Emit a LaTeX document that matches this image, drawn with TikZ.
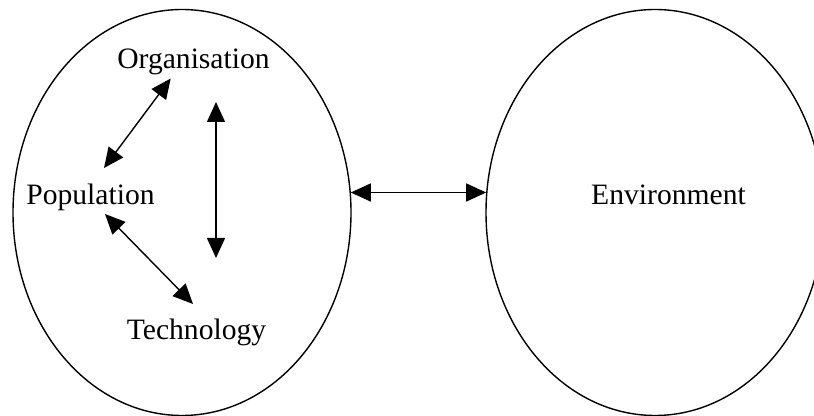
\documentclass[tikz,border=0pt]{standalone}
\usepackage{fontspec}
\setmainfont{Liberation Serif}
\usetikzlibrary{arrows.meta,calc,shapes.geometric}

\begin{document}
\begin{tikzpicture}[x=0.5pt, y=-0.5pt,
		oval/.style={draw, ellipse, line width=0.7pt, inner sep=0pt, outer sep=0pt},
		lbl/.style={font=\fontsize{14.8}{18}\selectfont, anchor=base, inner sep=0pt},
		link/.style={line width=0.7pt, {Triangle[length=10pt, width=9pt]}-{Triangle[length=10pt, width=9pt]}}]
		%%%%% START %%%%%
		\useasboundingbox (0, 0) rectangle (814, 416);
		
		\node[oval, minimum width=169pt, minimum height=203pt] (sys) at (182, 212.5) {};
		\node[oval, minimum width=169pt, minimum height=203pt] (env) at (655, 212.5) {};
		
		\node[lbl] (org) at (193.5, 69) {Organisation};
		\node[lbl] (pop) at (90.5, 205) {Population};
		\node[lbl] (tech) at (196.5, 340) {Technology};
		\node[lbl] (envtxt) at (668.5, 205) {Environment};
		
		\coordinate (orgA) at (170.7, 78.5);
		\coordinate (popA) at (104, 168);
		\coordinate (popB) at (105, 214);
		\coordinate (techA) at (193, 304);
		\coordinate (vtop) at (216, 102);
		\coordinate (vbot) at (216, 258);
		\coordinate (sysR) at ($(sys.center)+(168.8, -20)$);
		\coordinate (envL) at ($(env.center)+(-168.8, -20)$);
		
		\draw[link] (orgA) -- (popA);
		\draw[link] (popB) -- (techA);
		\draw[link] (vtop) -- (vbot);
		\draw[link] (sysR) -- (envL);
		%%%%% END %%%%%
	\end{tikzpicture}
\end{document}
